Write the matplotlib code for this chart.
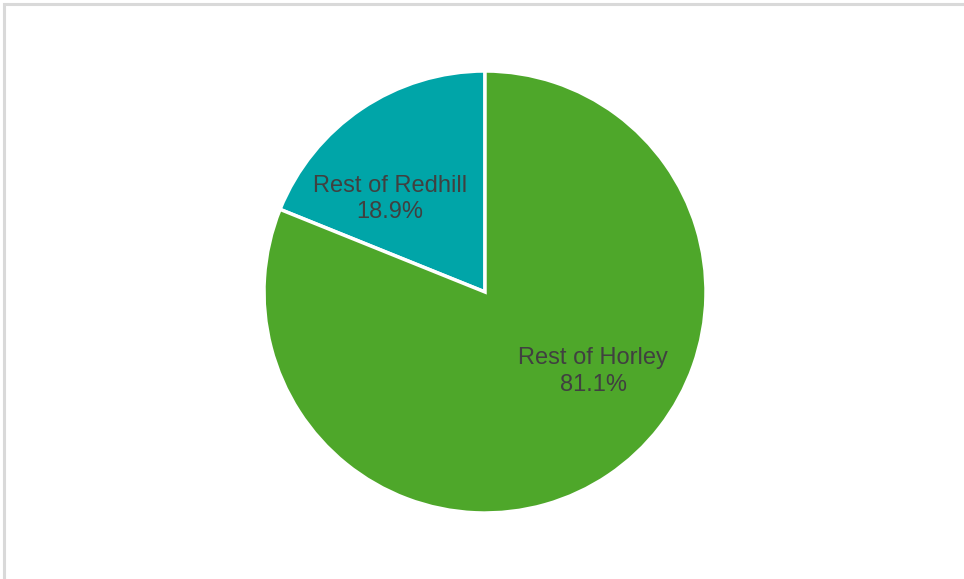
import matplotlib
matplotlib.use('Agg')
import matplotlib.pyplot as plt
from matplotlib.patches import Rectangle

plt.rcParams['font.family'] = ['Liberation Sans', 'DejaVu Sans']

labels = ['Rest of Redhill', 'Rest of Horley']
shares = [18.9, 81.1]
colors = ['#00A5A8', '#4EA72A']
# where Excel put the data labels (in units of the pie radius)
label_pos = [(-0.43, 0.42), (0.49, -0.36)]

fig = plt.figure(figsize=(9.64, 5.79), dpi=100)

# light grey chart frame (only left/top visible in the crop)
fig.patches.append(Rectangle((4 / 964, -0.05), 1.1, 1 - 3.5 / 579 + 0.05,
                             transform=fig.transFigure, fill=False,
                             edgecolor='#D9D9D9', linewidth=2.2))

cx, cy, r = 485, 292, 221
ax = fig.add_axes([(cx - r) / 964, (579 - cy - r) / 579, 2 * r / 964, 2 * r / 579])
ax.pie(shares, colors=colors, startangle=90, counterclock=True,
       wedgeprops=dict(edgecolor='white', linewidth=2.5))
ax.set_xlim(-1, 1)
ax.set_ylim(-1, 1)
ax.set_aspect('auto')
ax.axis('off')

for lab, val, (x, y) in zip(labels, shares, label_pos):
    ax.text(x, y, f'{lab}\n{val:.1f}%', ha='center', va='center',
            fontsize=17, color='#404040', linespacing=1.25)

fig.savefig('out.png', dpi=100)
